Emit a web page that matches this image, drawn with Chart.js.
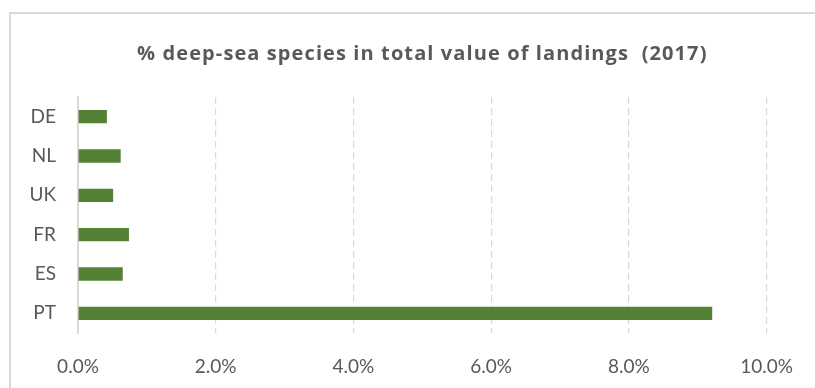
<!DOCTYPE html>
<html>
<head>
<meta charset="utf-8">
<script src="https://cdn.jsdelivr.net/npm/chart.js@4.4.1/dist/chart.umd.min.js"></script>
<style>
  html, body { margin: 0; padding: 0; background: #ffffff; }
  #wrap { width: 815px; height: 388px; position: relative; }
</style>
</head>
<body>
<div id="wrap"><canvas id="myChart" width="815" height="388"></canvas></div>
<script>
// share of deep-sea species in landing value, per country (%)
const countries = ["DE", "NL", "UK", "FR", "ES", "PT"];
const deepSeaShare = [0.42, 0.62, 0.51, 0.74, 0.65, 9.21];
const xTicks = [0, 2, 4, 6, 8, 10];
const chartTitle = "% deep-sea species in total value of landings  (2017)";

const FONT = "Lato, 'Open Sans', sans-serif";
const GREY_TEXT = "#595959";
const LINE_GREY = "#d9d9d9";

// light frame around the chart (top and left edges visible)
const framePlugin = {
    id: "frame",
    beforeDraw(chart) {
        const ctx = chart.ctx;
        ctx.save();
        ctx.strokeStyle = LINE_GREY;
        ctx.lineWidth = 2;
        ctx.beginPath();
        ctx.moveTo(10, 400);
        ctx.lineTo(10, 13);
        ctx.lineTo(820, 13);
        ctx.stroke();
        ctx.restore();
    }
};

// title centred over the plot area, with loose letter spacing
const titlePlugin = {
    id: "plotTitle",
    afterDraw(chart) {
        const ctx = chart.ctx;
        const area = chart.chartArea;
        ctx.save();
        ctx.font = "bold 20px 'Open Sans', Lato, sans-serif";
        ctx.letterSpacing = "1.1px";
        ctx.fillStyle = GREY_TEXT;
        ctx.textAlign = "center";
        ctx.textBaseline = "alphabetic";
        ctx.fillText(chartTitle, (area.left + area.right) / 2, 60);
        ctx.restore();
    }
};

const ctx = document.getElementById("myChart").getContext("2d");
new Chart(ctx, {
    type: "bar",
    data: {
        labels: countries,
        datasets: [
            {
                label: "% deep-sea species",
                data: deepSeaShare,
                backgroundColor: "#548235",
                borderWidth: 0,
                barPercentage: 0.34,
                categoryPercentage: 1.0
            }
        ]
    },
    options: {
        indexAxis: "y",
        responsive: false,
        animation: false,
        layout: {padding: {left: 0, right: 47, top: 97, bottom: 0}},
        plugins: {
            legend: {display: false},
            tooltip: {enabled: false},
            title: {display: false}
        },
        scales: {
            x: {
                min: 0,
                max: 10,
                afterBuildTicks(scale) {
                    scale.ticks = xTicks.map((v) => ({value: v}));
                },
                afterFit(scale) {
                    scale.height = 55;
                },
                ticks: {
                    color: GREY_TEXT,
                    font: {family: FONT, size: 19},
                    padding: 22,
                    callback: (value) => value.toFixed(1) + "%"
                },
                grid: {
                    drawTicks: false,
                    lineWidth: 1.2,
                    color: (c) => (c.tick && c.tick.value === 0 ? "rgba(0,0,0,0)" : LINE_GREY)
                },
                border: {display: false, dash: [7, 4]}
            },
            y: {
                afterFit(scale) {
                    scale.width = 78;
                },
                ticks: {
                    color: GREY_TEXT,
                    font: {family: FONT, size: 19},
                    padding: 22
                },
                grid: {display: false, drawTicks: false},
                border: {display: true, color: LINE_GREY, width: 2}
            }
        }
    },
    plugins: [framePlugin, titlePlugin]
});
</script>
</body>
</html>
